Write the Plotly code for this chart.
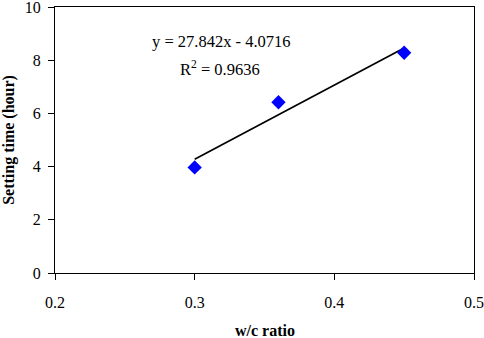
import plotly.graph_objects as go

wc_ratio = [0.30, 0.36, 0.45]
setting_time = [3.97, 6.42, 8.28]
slope = 27.842
intercept = -4.0716
r2 = 0.9636
trend_x = [0.30, 0.45]
trend_y = [slope * x + intercept for x in trend_x]

font = "Liberation Serif, Times New Roman, serif"

fig = go.Figure()
fig.add_trace(go.Scatter(x=trend_x, y=trend_y, mode="lines",
                         line=dict(color="black", width=1.7), showlegend=False))
fig.add_trace(go.Scatter(x=wc_ratio, y=setting_time, mode="markers",
                         marker=dict(symbol="diamond", size=11, color="#0000FF"),
                         showlegend=False))

fig.add_annotation(x=0.2 + (150 - 55) / 419 * 0.3, y=(273 - 40) / 26.8, xref="x", yref="y",
                   text="y = 27.842x - 4.0716", showarrow=False, xanchor="left", yanchor="middle",
                   font=dict(family=font, size=16.5, color="black"))
fig.add_annotation(x=0.2 + (178 - 55) / 419 * 0.3, y=(273 - 67) / 26.8, xref="x", yref="y",
                   text="R<sup>2</sup> = %.4f" % r2, showarrow=False, xanchor="left", yanchor="middle",
                   font=dict(family=font, size=16.5, color="black"))
# x-axis title
fig.add_annotation(x=0.5, y=0, xref="paper", yref="paper", yshift=-57,
                   text="<b>w/c ratio</b>", showarrow=False, xanchor="center", yanchor="middle",
                   font=dict(family=font, size=16, color="black"))

fig.update_layout(
    width=484, height=338,
    margin=dict(l=55, r=10, t=7, b=65, autoexpand=False),
    paper_bgcolor="white", plot_bgcolor="white",
    font=dict(family=font, size=16, color="black"),
    xaxis=dict(range=[0.2, 0.5], tickvals=[0.2, 0.3, 0.4, 0.5], ticktext=["0.2", "0.3", "0.4", "0.5"],
               showgrid=False, zeroline=False, showline=True, linecolor="black", linewidth=1,
               mirror=True, ticks="outside", ticklen=6, tickcolor="black", automargin=False,
               ticklabelstandoff=9, ticklabeloverflow="allow"),
    yaxis=dict(range=[0, 10], tickvals=[0, 2, 4, 6, 8, 10], ticktext=["0", "2", "4", "6", "8", "10"],
               showgrid=False, zeroline=False, showline=True, linecolor="black", linewidth=1,
               mirror=True, ticks="outside", ticklen=6, tickcolor="black", automargin=False,
               ticklabelstandoff=4, ticklabeloverflow="allow",
               title=dict(text="<b>Setting time (hour)</b>", font=dict(family=font, size=16), standoff=15)),
)
fig.write_html("out.html", config={"displayModeBar": False})

with open("out.html", encoding="utf-8") as f:
    html = f.read()
html = html.replace("<head>", "<head><style>html,body{margin:0;padding:0;overflow:hidden;}</style>", 1)
with open("out.html", "w", encoding="utf-8") as f:
    f.write(html)
